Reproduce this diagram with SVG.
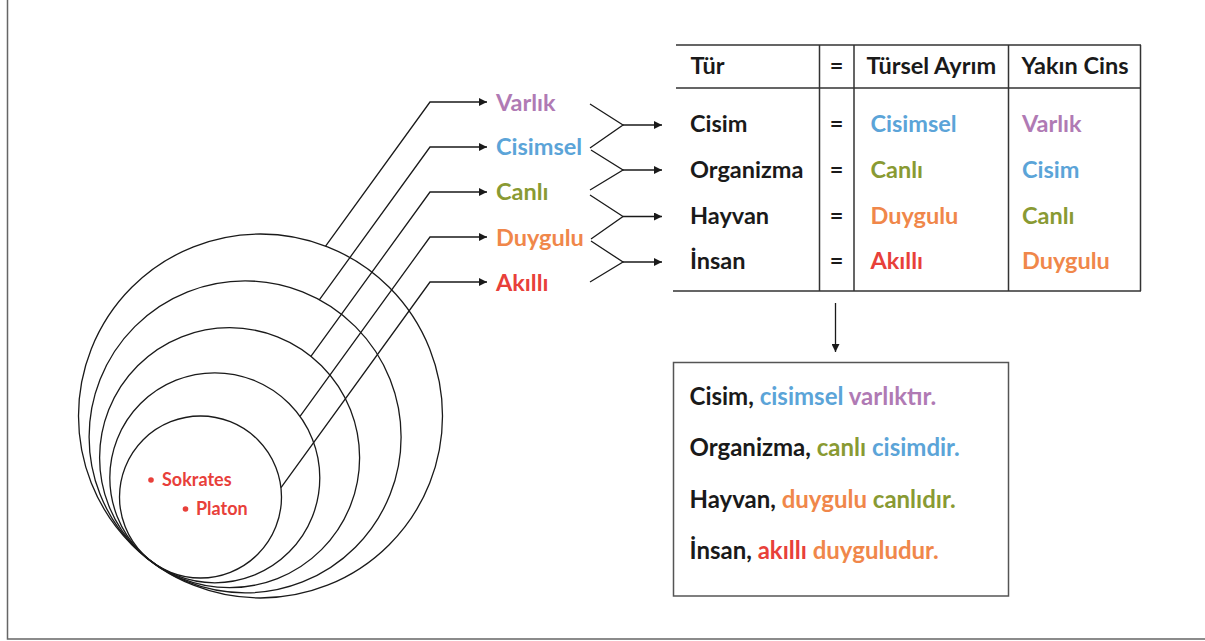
<svg xmlns="http://www.w3.org/2000/svg" width="1205" height="641" viewBox="0 0 1205 641">
  <defs>
    <marker id="arrow" viewBox="0 0 10 10" refX="10" refY="5" markerWidth="8" markerHeight="8" markerUnits="userSpaceOnUse" orient="auto">
      <path d="M0,0 L10,5 L0,10 z" fill="#1a1a1a"/>
    </marker>
    <style>
      text { font-family: Lato, "Open Sans", "Liberation Sans", sans-serif; font-weight: bold; font-size: 23.5px; fill: #1a1a1a; }
      .small { font-size: 18px; }
      .sentence { font-size: 24px; }
      .ring { fill: none; stroke: #1a1a1a; stroke-width: 1.3; }
      .con { fill: none; stroke: #1a1a1a; stroke-width: 1.3; }
      .rule { stroke: #333; stroke-width: 1.5; fill: none; }
      .frame { stroke: #666; stroke-width: 1.5; fill: none; }
      .purple { fill: #b07ab4; }
      .blue { fill: #5ba4d8; }
      .green { fill: #899a33; }
      .orange { fill: #f0874a; }
      .red { fill: #e8403a; }
      .eq { text-anchor: middle; }
    </style>
  </defs>

  <rect width="1205" height="641" fill="#ffffff"/>
  <path class="frame" d="M7.5,0 V639 H1205"/>

  <!-- nested circles, all touching at one lower-left point -->
  <g id="set-varlik"><circle class="ring" cx="260.5" cy="416" r="182"/></g>
  <g id="set-cisimsel"><circle class="ring" cx="245.1" cy="436.9" r="156"/></g>
  <g id="set-canli"><circle class="ring" cx="229.6" cy="457.7" r="130"/></g>
  <g id="set-duygulu"><circle class="ring" cx="214.8" cy="477.8" r="105"/></g>
  <g id="set-akilli">
    <circle class="ring" cx="200.5" cy="497" r="81"/>
    <circle cx="151" cy="480" r="2.8" class="red"/>
    <text class="small red" x="162" y="486">Sokrates</text>
    <circle cx="185.5" cy="509" r="2.8" class="red"/>
    <text class="small red" x="196" y="515">Platon</text>
  </g>

  <!-- property labels -->
  <g id="label-varlik"><text class="purple" x="496" y="110.5">Varlık</text></g>
  <g id="label-cisimsel"><text class="blue" x="496" y="155">Cisimsel</text></g>
  <g id="label-canli"><text class="green" x="496" y="200">Canlı</text></g>
  <g id="label-duygulu"><text class="orange" x="496" y="245.5">Duygulu</text></g>
  <g id="label-akilli"><text class="red" x="496" y="291">Akıllı</text></g>

  <!-- definition table -->
  <g id="table">
    <path class="rule" d="M676,45 H1141 M676,88 H1141 M673,291 H1141 M819.5,45 V291 M854,45 V291 M1008.5,45 V291 M1140.5,45 V291"/>
    <text x="690.5" y="73.5">Tür</text>
    <text class="eq" x="836.5" y="73.5">=</text>
    <text x="866.5" y="73.5">Türsel Ayrım</text>
    <text x="1021.5" y="73.5">Yakın Cins</text>

    <text x="690" y="132">Cisim</text>
    <text class="eq" x="836.5" y="132">=</text>
    <text class="blue" x="870.5" y="132">Cisimsel</text>
    <text class="purple" x="1022" y="132">Varlık</text>

    <text x="690" y="177.5">Organizma</text>
    <text class="eq" x="836.5" y="177.5">=</text>
    <text class="green" x="870.5" y="177.5">Canlı</text>
    <text class="blue" x="1022" y="177.5">Cisim</text>

    <text x="690" y="223.5">Hayvan</text>
    <text class="eq" x="836.5" y="223.5">=</text>
    <text class="orange" x="870.5" y="223.5">Duygulu</text>
    <text class="green" x="1022" y="223.5">Canlı</text>

    <text x="690" y="268.5">İnsan</text>
    <text class="eq" x="836.5" y="268.5">=</text>
    <text class="red" x="870.5" y="268.5">Akıllı</text>
    <text class="orange" x="1022" y="268.5">Duygulu</text>
  </g>

  <!-- sentence box -->
  <g id="sentences">
    <rect x="673.5" y="362.5" width="335" height="233.5" fill="#ffffff" stroke="#555" stroke-width="1.5"/>
    <text class="sentence" x="689.5" y="405">Cisim, <tspan class="blue">cisimsel</tspan> <tspan class="purple">varlıktır.</tspan></text>
    <text class="sentence" x="689.5" y="456">Organizma, <tspan class="green">canlı</tspan> <tspan class="blue">cisimdir.</tspan></text>
    <text class="sentence" x="689.5" y="507.5">Hayvan, <tspan class="orange">duygulu</tspan> <tspan class="green">canlıdır.</tspan></text>
    <text class="sentence" x="689.5" y="559">İnsan, <tspan class="red">akıllı</tspan> <tspan class="orange">duyguludur.</tspan></text>
  </g>

  <!-- connectors -->
  <g id="connectors">
    <!-- circles to labels -->
    <path class="con" d="M325.6,246.1 L430,102 H487" marker-end="url(#arrow)"/>
    <path class="con" d="M319.3,299.8 L430,147 H487" marker-end="url(#arrow)"/>
    <path class="con" d="M310.9,356.4 L430,192 H487" marker-end="url(#arrow)"/>
    <path class="con" d="M300,416.4 L430,237 H487" marker-end="url(#arrow)"/>
    <path class="con" d="M281,487.6 L430,282 H487" marker-end="url(#arrow)"/>
    <!-- label pairs to table rows -->
    <path class="con" d="M590,104 L623,125 L590,148"/>
    <path class="con" d="M623,125 H662" marker-end="url(#arrow)"/>
    <path class="con" d="M591,150 L623,170 L590,190"/>
    <path class="con" d="M623,170 H662" marker-end="url(#arrow)"/>
    <path class="con" d="M590,195 L623,216.5 L591,239"/>
    <path class="con" d="M623,216.5 H662" marker-end="url(#arrow)"/>
    <path class="con" d="M591,241 L623,262 L590,282"/>
    <path class="con" d="M623,262 H662" marker-end="url(#arrow)"/>
    <!-- table to sentences -->
    <path class="con" d="M835.5,303 V352" marker-end="url(#arrow)"/>
  </g>
</svg>
